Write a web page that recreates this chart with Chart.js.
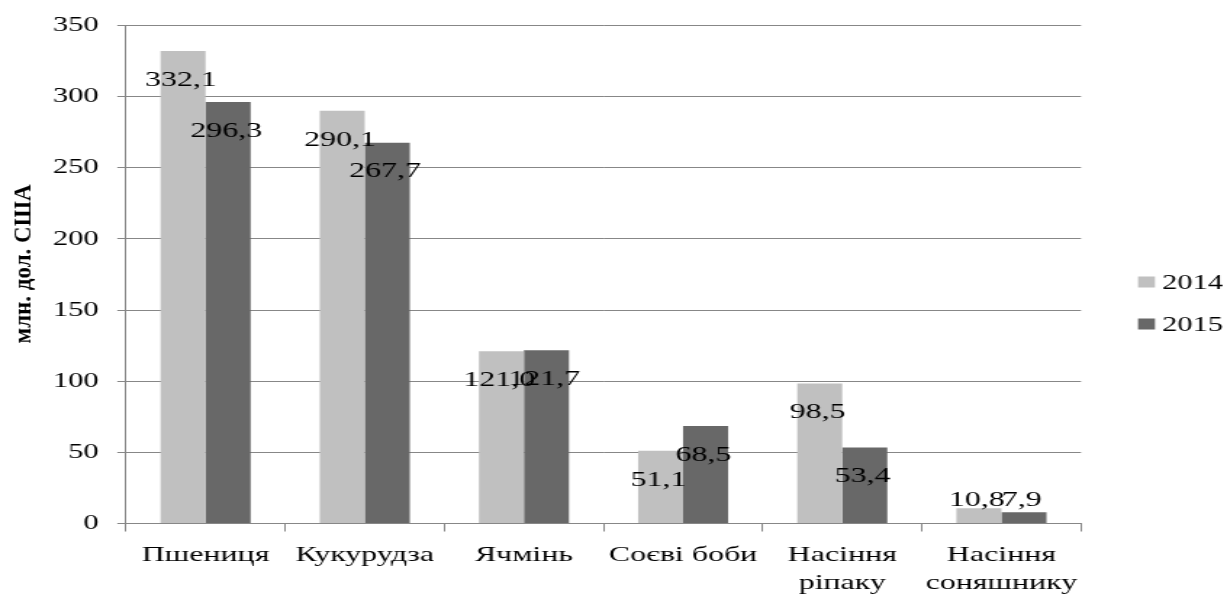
<!DOCTYPE html>
<html><head><meta charset="utf-8">
<script src="https://cdn.jsdelivr.net/npm/chart.js@4.4.0/dist/chart.umd.min.js"></script>
<style>html,body{margin:0;padding:0;background:#fff;overflow:hidden}</style></head>
<body>
<canvas id="c" width="846" height="594" style="display:block;width:1227px;height:594px"></canvas>
<script>
const categories = [['Пшениця'], ['Кукурудза'], ['Ячмінь'], ['Соєві боби'], ['Насіння', 'ріпаку'], ['Насіння', 'соняшнику']];
const series2014 = [332.1, 290.1, 121.0, 51.1, 98.5, 10.8];
const series2015 = [296.3, 267.7, 121.7, 68.5, 53.4, 7.9];
const seriesNames = ['2014', '2015'];
const seriesColors = ['#c0c0c0', '#686868'];
const yMin = 0, yMax = 350, yStep = 50;
const yTitle = 'млн. дол. США';

const S = 1227 / 846; // horizontal stretch of the picture
const FONT = '"Liberation Serif", "Times New Roman", serif';
const gridColor = '#878787';

const labelsPlugin = {
  id: 'barLabels',
  afterDatasetsDraw(chart) {
    const ctx = chart.ctx;
    const base = chart.scales.y.getPixelForValue(0);
    ctx.save();
    ctx.font = '22px ' + FONT;
    ctx.fillStyle = '#000';
    ctx.textAlign = 'center';
    ctx.textBaseline = 'middle';
    chart.data.datasets.forEach((ds, di) => {
      chart.getDatasetMeta(di).data.forEach((bar, i) => {
        const txt = ds.data[i].toFixed(1).replace('.', ',');
        const y = Math.min(bar.y + 29, base - 23);
        ctx.fillText(txt, bar.x - 1.4, y);
      });
    });
    ctx.restore();
  }
};

const legendPlugin = {
  id: 'sideLegend',
  afterDraw(chart) {
    const ctx = chart.ctx;
    ctx.save();
    ctx.font = '21px ' + FONT;
    ctx.textBaseline = 'middle';
    ctx.textAlign = 'left';
    chart.data.datasets.forEach((ds, i) => {
      const cy = 282 + i * 42;
      ctx.fillStyle = ds.backgroundColor;
      ctx.fillRect(1138 / S, cy - 5.5, 17 / S, 11);
      ctx.fillStyle = '#000';
      ctx.fillText(ds.label, 1162 / S, cy + 1);
    });
    ctx.restore();
  }
};

const yTitlePlugin = {
  id: 'yTitle',
  afterDraw(chart) {
    const ctx = chart.ctx;
    ctx.save();
    ctx.translate(25 / S, 264);
    ctx.scale(1 / S, 1);
    ctx.rotate(-Math.PI / 2);
    ctx.font = 'bold 23px ' + FONT;
    ctx.fillStyle = '#000';
    ctx.textAlign = 'center';
    ctx.textBaseline = 'middle';
    ctx.fillText(yTitle, 0, 0);
    ctx.restore();
  }
};

new Chart(document.getElementById('c'), {
  type: 'bar',
  data: {
    labels: categories,
    datasets: [
      { label: seriesNames[0], data: series2014, backgroundColor: seriesColors[0] },
      { label: seriesNames[1], data: series2015, backgroundColor: seriesColors[1] }
    ]
  },
  options: {
    responsive: false,
    animation: false,
    devicePixelRatio: 1,
    layout: { padding: { top: 23, right: 846 - 1081 / S, bottom: 0, left: 0 } },
    datasets: { bar: { barPercentage: 1.0, categoryPercentage: 0.566 } },
    plugins: { legend: { display: false }, tooltip: { enabled: false } },
    scales: {
      x: {
        offset: true,
        grid: { offset: true, drawOnChartArea: false, drawTicks: true, tickLength: 8, color: gridColor },
        border: { display: true, color: gridColor },
        ticks: { color: '#000', padding: 10, font: { family: FONT, size: 22, lineHeight: 1.25 }, maxRotation: 0, autoSkip: false },
        afterFit(s) { s.height = 594 - 523.5; }
      },
      y: {
        min: yMin, max: yMax,
        grid: { color: gridColor, tickLength: 6 },
        border: { display: true, color: gridColor },
        ticks: { stepSize: yStep, color: '#000', padding: 13, font: { family: FONT, size: 21 } },
        afterFit(s) { s.width = 126 / S; }
      }
    }
  },
  plugins: [labelsPlugin, legendPlugin, yTitlePlugin]
});
</script>
</body></html>
